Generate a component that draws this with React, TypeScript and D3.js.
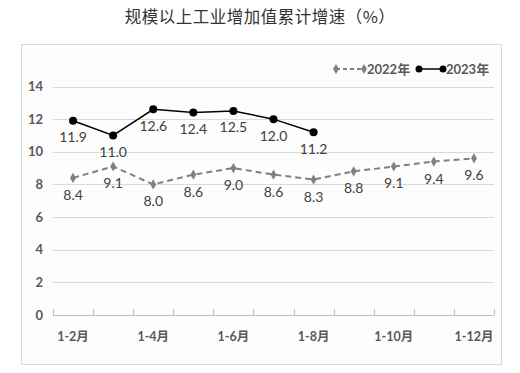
import React from 'react';
import * as d3 from 'd3';

// 月份（累计期）
const months = ['1-2月', '1-3月', '1-4月', '1-5月', '1-6月', '1-7月', '1-8月', '1-9月', '1-10月', '1-11月', '1-12月'];
const shownMonths = ['1-2月', '1-4月', '1-6月', '1-8月', '1-10月', '1-12月'];
const values2022 = [8.4, 9.1, 8.0, 8.6, 9.0, 8.6, 8.3, 8.8, 9.1, 9.4, 9.6];
const values2023 = [11.9, 11.0, 12.6, 12.4, 12.5, 12.0, 11.2];
const yTicks = [0, 2, 4, 6, 8, 10, 12, 14];

const W = 520;
const H = 373;
const plot = { left: 53, right: 494, top: 86.5, bottom: 315 };
const numFont = "Lato, 'Noto Sans CJK SC', sans-serif";

export default function App() {
  const x = d3.scaleBand<string>().domain(months).range([plot.left, plot.right]).padding(0);
  const y = d3.scaleLinear().domain([0, 14]).range([plot.bottom, plot.top]);
  const cx = (i: number) => (x(months[i]) as number) + x.bandwidth() / 2;

  const line = d3.line<number>().x((_, i) => cx(i)).y(d => y(d));
  const diamond = d3.symbol().type(d3.symbolDiamond).size(30)();

  const boundaries = months.map(m => x(m) as number).concat([plot.right]);

  return (
    <svg width={W} height={H} style={{ position: 'absolute', left: 0, top: 0, background: '#fff' }}>
      <text x={260} y={23} textAnchor="middle" fontSize={16.5} fill="#333"
        fontFamily="'Noto Sans CJK SC', sans-serif" letterSpacing={0.5}>
        规模以上工业增加值累计增速（%）
      </text>

      <rect x={21.5} y={44.5} width={480} height={320} fill="#fdfdfd" stroke="#d9d9d9" strokeWidth={1} />

      {/* 网格线与纵轴标签 */}
      {yTicks.map(t => (
        <g key={t}>
          {t > 0 && (
            <line x1={plot.left} x2={plot.right} y1={Math.round(y(t)) + 0.5} y2={Math.round(y(t)) + 0.5}
              stroke="#d9d9d9" strokeWidth={1} />
          )}
          <text x={43} y={y(t) + 4.5} textAnchor="end" fontSize={13} fontWeight="bold"
            fill="#595959" fontFamily={numFont}>{t}</text>
        </g>
      ))}

      {/* 横轴 */}
      <line x1={plot.left} x2={plot.right} y1={plot.bottom + 0.5} y2={plot.bottom + 0.5} stroke="#bfbfbf" strokeWidth={1} />
      {boundaries.map((b, i) => (
        <line key={i} x1={Math.round(b) + 0.5} x2={Math.round(b) + 0.5} y1={plot.bottom - 6} y2={plot.bottom}
          stroke="#bfbfbf" strokeWidth={1} />
      ))}
      {shownMonths.map(m => (
        <text key={m} x={(x(m) as number) + x.bandwidth() / 2} y={341} textAnchor="middle" fontSize={12.5}
          fontWeight="bold" fill="#595959" fontFamily={numFont}>{m}</text>
      ))}

      {/* 2022年 */}
      <path d={line(values2022) || ''} fill="none" stroke="#808080" strokeWidth={2} strokeDasharray="6,4" />
      {values2022.map((v, i) => (
        <g key={i}>
          <path d={diamond || ''} transform={`translate(${cx(i)},${y(v)})`} fill="#808080" />
          <text x={cx(i)} y={y(v) + 22} textAnchor="middle" fontSize={14} fill="#404040"
            fontFamily={numFont}>{v.toFixed(1)}</text>
        </g>
      ))}

      {/* 2023年 */}
      <path d={line(values2023) || ''} fill="none" stroke="#000" strokeWidth={1.5} />
      {values2023.map((v, i) => (
        <g key={i}>
          <circle cx={cx(i)} cy={y(v)} r={4} fill="#000" />
          <text x={cx(i)} y={y(v) + 21.5} textAnchor="middle" fontSize={14} fill="#404040"
            fontFamily={numFont}>{v.toFixed(1)}</text>
        </g>
      ))}

      {/* 图例 */}
      <g>
        <line x1={336} x2={364} y1={69} y2={69} stroke="#808080" strokeWidth={2} strokeDasharray="4,3" />
        <path d={diamond || ''} transform="translate(336,69)" fill="#808080" />
        <path d={diamond || ''} transform="translate(364,69)" fill="#808080" />
        <text x={367} y={73.5} fontSize={13} fontWeight="bold" fill="#595959" fontFamily={numFont}>2022年</text>
        <line x1={419} x2={443} y1={69} y2={69} stroke="#000" strokeWidth={1.5} />
        <circle cx={419} cy={69} r={3.5} fill="#000" />
        <circle cx={443} cy={69} r={3.5} fill="#000" />
        <text x={446} y={73.5} fontSize={13} fontWeight="bold" fill="#595959" fontFamily={numFont}>2023年</text>
      </g>
    </svg>
  );
}
